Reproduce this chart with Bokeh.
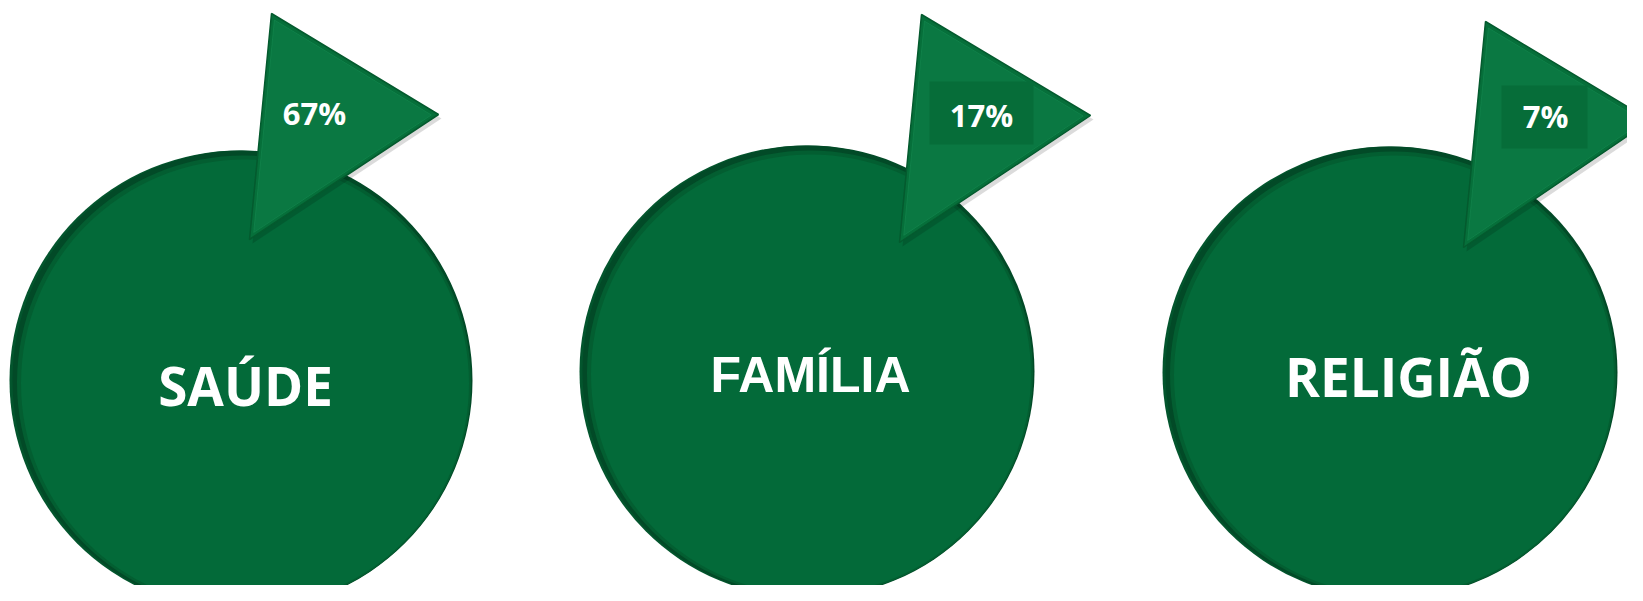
from bokeh.plotting import figure
from bokeh.models import Range1d, ColumnDataSource
from bokeh.core.properties import value
from bokeh.embed import file_html
from bokeh.resources import INLINE

# ---- data ----
categories = ["SAÚDE", "FAMÍLIA", "RELIGIÃO"]
percent_values = [67, 17, 7]
percent_labels = [f"{v}%" for v in percent_values]

# ---- layout (pixel-like data space, y downward) ----
centers_x = [242, 808, 1391]
centers_y = [380, 371, 372]
radii = [230, 226, 226]
label_pos = [(245, 385), (810, 374), (1408, 376)]
label_fonts = ["Open Sans", "Liberation Sans", "Open Sans"]
label_sizes = ["53px", "50px", "53px"]
# triangle pointer vertices relative to circle centre
tri_offsets = [
    [(29, -367), (196, -266), (7, -141)],
    [(113, -357), (282, -256), (91, -129)],
    [(94, -351), (259, -252), (72, -125)],
]
pct_pos = [(314, 112), (981, 114), (1545, 115)]
box_c = [(981, 112.5), (1544, 116.5)]
box_w = [104, 86]
box_h = [63, 63]

W, H = 1627, 585
p = figure(width=W, height=H, output_backend="svg", toolbar_location=None,
           x_range=Range1d(0, W), y_range=Range1d(H, 0),
           min_border=0, outline_line_color=None)
p.axis.visible = False
p.grid.visible = False
p.background_fill_color = "white"
p.border_fill_color = "white"

# circles: dark rim (inner shadow on top-left) + main fill
p.circle(x=[c - 3 for c in centers_x], y=centers_y, radius=radii,
         fill_color="#03552d", line_color=None)
p.circle(x=centers_x, y=centers_y, radius=radii,
         fill_color="#024a27", line_color=None)
p.circle(x=[c + 1.5 for c in centers_x], y=[c + 2 for c in centers_y],
         radius=[r - 3 for r in radii], fill_color="#035e31", line_color=None)
p.circle(x=[c + 2.5 for c in centers_x], y=[c + 3 for c in centers_y],
         radius=[r - 6 for r in radii], fill_color="#036a39", line_color=None)

# triangles
xs, ys, sxs, sys_ = [], [], [], []
ixs, iys = [], []
for cx, cy, offs in zip(centers_x, centers_y, tri_offsets):
    px = [cx + dx for dx, dy in offs]
    py = [cy + dy for dx, dy in offs]
    xs.append(px); ys.append(py)
    sxs.append([x + 3 for x in px]); sys_.append([y + 4 for y in py])
    gx = sum(px) / 3; gy = sum(py) / 3
    ixs.append([gx + (x - gx) * 0.94 for x in px])
    iys.append([gy + (y - gy) * 0.94 for y in py])

p.patches(xs=sxs, ys=sys_, fill_color="#000000", fill_alpha=0.14, line_color=None)
p.patches(xs=xs, ys=ys, fill_color="#066f3a", line_color="#045a2e", line_width=1.5)
p.patches(xs=ixs, ys=iys, fill_color="#0a7842", line_color="#178d53", line_width=1, line_alpha=0.5)

# percent boxes
p.rect(x=[c[0] for c in box_c], y=[c[1] for c in box_c], width=box_w, height=box_h,
       fill_color="#066d39", line_color=None)

# category labels
for (lx, ly), t, f, s in zip(label_pos, categories, label_fonts, label_sizes):
    p.text(x=[lx], y=[ly], text=[t], text_color="white",
           text_font=value(f), text_font_style="bold", text_font_size=s,
           text_align="center", text_baseline="middle")

psrc = ColumnDataSource(dict(x=[q[0] for q in pct_pos], y=[q[1] for q in pct_pos],
                             t=percent_labels))
p.text(x="x", y="y", text="t", source=psrc, text_color="white",
       text_font=value("Open Sans"), text_font_style="bold", text_font_size="31px",
       text_align="center", text_baseline="middle")

open("out.html", "w").write(file_html(p, INLINE))
